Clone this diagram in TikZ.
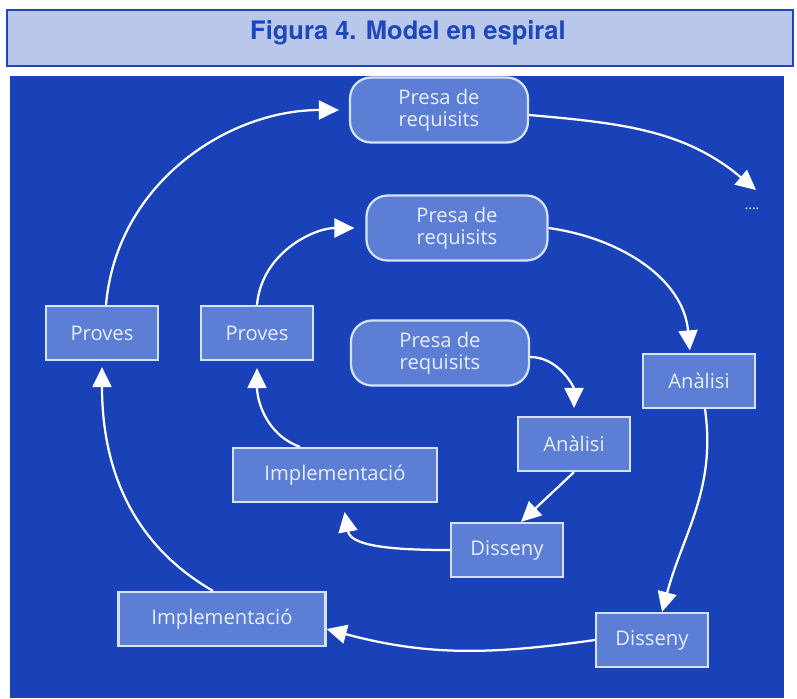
\documentclass[tikz,border=0pt]{standalone}
\usepackage{fontspec}
\setmainfont{Open Sans}
\newfontfamily\titolfont{TeX Gyre Heros}
\usetikzlibrary{arrows.meta}
\definecolor{fons}{RGB}{26,66,184}
\definecolor{caixa}{RGB}{92,126,212}
\definecolor{vora}{RGB}{214,226,250}
\definecolor{lletra}{RGB}{232,238,252}
\definecolor{titolfons}{RGB}{184,199,234}
\definecolor{titolblau}{RGB}{30,72,186}
\tikzset{
  etapa/.style={draw=vora,fill=caixa,line width=0.045cm,text=lletra,
    minimum width=2.24cm,minimum height=1.08cm,inner sep=0pt,
    font=\fontsize{11.5}{13}\selectfont},
  presa/.style={etapa,rounded corners=0.42cm,minimum width=3.56cm,
    minimum height=1.3cm,align=center,font=\fontsize{11.5}{12.5}\selectfont},
  fletxa/.style={draw=white,line width=0.045cm,
    -{Triangle[length=0.4cm,width=0.38cm]}}
}
\begin{document}
\begin{tikzpicture}[x=0.02cm,y=-0.02cm]
\useasboundingbox (0,0) rectangle (797,698);
\filldraw[fill=titolfons,draw=titolblau,line width=0.03cm] (7,10) rectangle (793,66);
\node[text=titolblau,font=\titolfont\bfseries\fontsize{14.5}{16}\selectfont] (T) at (408,33) {Figura 4. Model en espiral};
\fill[fons] (10,76) rectangle (784,698);
\node[presa] (PR1) at (439,110) {Presa de\\requisits};
\node[presa,minimum width=3.62cm] (PR2) at (457,228) {Presa de\\requisits};
\node[presa] (PR3) at (440,353) {Presa de\\requisits};
\node[etapa] (PV1) at (102,333) {Proves};
\node[etapa] (PV2) at (257,333) {Proves};
\node[etapa] (AN1) at (699,381) {Anàlisi};
\node[etapa] (AN2) at (574,444) {Anàlisi};
\node[etapa,minimum width=4.08cm] (IM2) at (335,475) {Implementació};
\node[etapa] (DI2) at (507,550) {Disseny};
\node[etapa,minimum width=4.14cm] (IM1) at (222,619) {Implementació};
\node[etapa] (DI1) at (652,640) {Disseny};
\node[text=lletra,font=\footnotesize] (PT) at (752,209) {....};
\coordinate (F) at (756,190);
\draw[fletxa,shorten >=0.2cm] ([xshift=0.08cm]PV1.north) to[out=85,in=180] (PR1.west);
\draw[fletxa] ([yshift=-0.1cm]PR1.east) to[out=-5,in=140] (F);
\draw[fletxa,shorten >=0.22cm] (PV2.north) to[out=85,in=180] (PR2.west);
\draw[fletxa,shorten >=0.05cm] (PR2.east) to[out=-8,in=95] ([xshift=-0.18cm]AN1.north);
\draw[fletxa] ([xshift=0.12cm]AN1.south) to[out=-82,in=75] ([xshift=0.2cm]DI1.north);
\draw[fletxa] (DI1.west) to[out=188,in=-15] ([yshift=-0.2cm]IM1.east);
\draw[fletxa,shorten >=0.12cm] ([xshift=-0.18cm]IM1.north) to[out=150,in=-90] (PV1.south);
\draw[fletxa,shorten >=0.16cm] ([yshift=-0.08cm]PR3.east) to[out=0,in=90] (AN2.north);
\draw[fletxa] (AN2.south) -- ([xshift=0.28cm]DI2.north);
\draw[fletxa,shorten >=0.18cm] (DI2.west) to[out=180,in=-80] ([xshift=0.16cm]IM2.south);
\draw[fletxa,shorten >=0.14cm] ([xshift=-0.7cm]IM2.north) to[out=160,in=-90] (PV2.south);
\end{tikzpicture}
\end{document}
